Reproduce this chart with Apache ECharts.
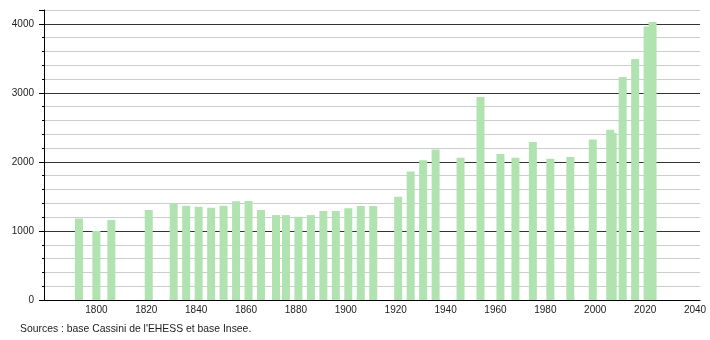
<!DOCTYPE html>
<html>
<head>
<meta charset="utf-8">
<script src="https://cdn.jsdelivr.net/npm/echarts@6/dist/echarts.min.js"></script>
<style>
  html, body { margin: 0; padding: 0; background: #fff; }
  #histogram { width: 710px; height: 340px; }
</style>
</head>
<body>
<div id="histogram"></div>
<script>
// années de recensement et population
var years = [1793, 1800, 1806, 1821, 1831, 1836, 1841, 1846, 1851, 1856, 1861, 1866,
  1872, 1876, 1881, 1886, 1891, 1896, 1901, 1906, 1911, 1921, 1926, 1931, 1936,
  1946, 1954, 1962, 1968, 1975, 1982, 1990, 1999, 2006, 2007, 2011, 2016, 2021, 2023]
var population = [1180, 1000, 1160, 1305, 1400, 1365, 1350, 1335, 1365, 1430, 1435, 1305,
  1230, 1230, 1205, 1230, 1290, 1290, 1330, 1360, 1360, 1495, 1860, 2025, 2180,
  2060, 2940, 2115, 2060, 2290, 2045, 2070, 2325, 2465, 2420, 3230, 3490, 3960, 4025]
var xLabels = [1800, 1820, 1840, 1860, 1880, 1900, 1920, 1940, 1960, 1980, 2000, 2020, 2040]
var yLabels = [0, 1000, 2000, 3000, 4000]
var sourceText = "Sources : base Cassini de l'EHESS et base Insee."

var myChart = echarts.init(document.getElementById('histogram'))

// les barres les plus hautes sont dessinées en dernier (chevauchements 2006/2007, 2021/2023)
var points = years.map(function (y, i) { return [y, population[i]] })
points.sort(function (a, b) { return a[1] - b[1] })

var labelFont = { color: '#222', fontSize: 10, fontFamily: 'Liberation Sans, Arial, sans-serif' }

var option = {
  animation: false,
  grid: { left: 44, right: 10, top: 10, bottom: 40 },
  xAxis: {
    type: 'value',
    min: 1779,
    max: 2042,
    axisLine: { lineStyle: { color: '#000', width: 1 } },
    axisTick: { show: false },
    splitLine: { show: false },
    axisLabel: Object.assign({
      margin: 5,
      customValues: xLabels,
      formatter: function (v) { return String(v) }
    }, labelFont)
  },
  yAxis: [
    {
      type: 'value',
      min: 0,
      max: 4200,
      interval: 200,
      axisLine: { show: true, lineStyle: { color: '#000', width: 1 } },
      axisTick: { show: true, length: 2, lineStyle: { color: '#000' } },
      splitLine: {
        show: true,
        lineStyle: { color: ['#333', '#cccccc', '#cccccc', '#cccccc', '#cccccc'], width: 1 }
      },
      axisLabel: Object.assign({
        margin: 10,
        formatter: function (v) { return yLabels.indexOf(v) >= 0 ? String(v) : '' }
      }, labelFont)
    },
    {
      type: 'value',
      position: 'left',
      min: 0,
      max: 4200,
      interval: 1000,
      axisLine: { show: false },
      axisTick: { show: true, length: 5, lineStyle: { color: '#000' } },
      splitLine: { show: false },
      axisLabel: { show: false }
    }
  ],
  series: [
    {
      type: 'bar',
      yAxisIndex: 0,
      barWidth: 8,
      itemStyle: { color: '#b1e3b1' },
      data: points
    }
  ],
  graphic: [
    {
      type: 'text',
      left: 20,
      top: 324,
      style: { text: sourceText, fill: '#222', fontSize: 10.4, fontFamily: 'Liberation Sans, Arial, sans-serif' }
    }
  ]
}

myChart.setOption(option)
</script>
</body>
</html>
